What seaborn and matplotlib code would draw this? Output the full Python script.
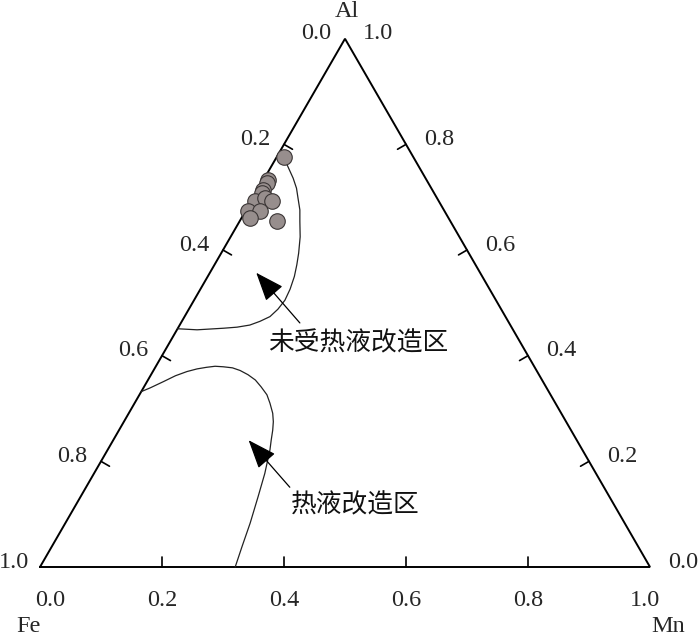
import numpy as np
import pandas as pd
import matplotlib
matplotlib.use("Agg")
import matplotlib.pyplot as plt
import seaborn as sns

# sample compositions (fractions)
fe = [0.213, 0.259, 0.265, 0.277, 0.283, 0.302, 0.282, 0.274, 0.322, 0.303, 0.325, 0.285]
mn = [0.011, 0.008, 0.008, 0.009, 0.010, 0.007, 0.020, 0.035, 0.005, 0.024, 0.014, 0.061]
al = [0.777, 0.733, 0.727, 0.714, 0.708, 0.692, 0.698, 0.692, 0.673, 0.673, 0.661, 0.655]

# field boundaries (Al, Mn; Fe = 1 - Al - Mn)
unaltered_al = [0.764, 0.736, 0.717, 0.698, 0.676, 0.654, 0.625, 0.594, 0.572, 0.550,
                0.526, 0.505, 0.488, 0.474, 0.465, 0.458, 0.454, 0.452, 0.449, 0.451]
unaltered_mn = [0.022, 0.047, 0.062, 0.074, 0.088, 0.099, 0.114, 0.127, 0.135, 0.142,
                0.147, 0.149, 0.146, 0.140, 0.128, 0.115, 0.096, 0.075, 0.033, 0.000]
hydro_al = [0.332, 0.339, 0.351, 0.362, 0.370, 0.375, 0.378, 0.380, 0.379, 0.377,
            0.372, 0.364, 0.354, 0.341, 0.326, 0.310, 0.291, 0.275, 0.259, 0.240,
            0.222, 0.177, 0.133, 0.083, 0.038, 0.000]
hydro_mn = [0.000, 0.011, 0.027, 0.041, 0.056, 0.070, 0.084, 0.097, 0.111, 0.127,
            0.142, 0.159, 0.176, 0.192, 0.209, 0.222, 0.236, 0.245, 0.252, 0.259,
            0.266, 0.280, 0.291, 0.303, 0.312, 0.320]

tick_values = [0.0, 0.2, 0.4, 0.6, 0.8, 1.0]
tick_labels = ["0.0", "0.2", "0.4", "0.6", "0.8", "1.0"]

H = np.sqrt(3) / 2


def to_xy(mn_, al_):
    mn_ = np.asarray(mn_, float)
    al_ = np.asarray(al_, float)
    return mn_ + al_ / 2, al_ * H


sns.set_theme(style="white")
plt.rcParams["font.family"] = ["Liberation Serif", "DejaVu Serif"]

fig = plt.figure(figsize=(7, 6.36), dpi=100)
ax = fig.add_axes([0, 0, 1, 1])
ax.set_xlim(-40 / 610, 660 / 610)
ax.set_ylim((567 - 636) / 610, 567 / 610)
ax.set_axis_off()

# triangle frame
ax.plot([0, 1, 0.5, 0], [0, 0, H, 0], color="black", lw=1.4, solid_joinstyle="miter")

tick_len = 0.016
num_kw = dict(fontsize=17.5, ha="center", va="center", textcoords="offset pixels")
bottom_shift = {0.0: 10, 1.0: -5}
for v, lab in zip(tick_values, tick_labels):
    # bottom edge: Mn
    bx, by = to_xy(v, 0)
    if 0 < v < 1:
        ax.plot([bx, bx], [by, by + tick_len], color="black", lw=1.2)
    ax.annotate(lab, (bx, by), xytext=(bottom_shift.get(v, 0), -33), **num_kw)
    # left edge: Fe (Mn = 0, Al = 1 - Fe)
    lx, ly = to_xy(0, 1 - v)
    if 0 < v < 1:
        ax.plot([lx, lx + tick_len * H], [ly, ly - tick_len * 0.5], color="black", lw=1.2)
    ax.annotate(lab, (lx, ly), xytext=(-26 if v == 1.0 else -29, 5), **num_kw)
    # right edge: Al (Fe = 0, Mn = 1 - Al)
    rx, ry = to_xy(1 - v, v)
    if 0 < v < 1:
        ax.plot([rx, rx - tick_len * H], [ry, ry - tick_len * 0.5], color="black", lw=1.2)
    ax.annotate(lab, (rx, ry), xytext=(33, 5), **num_kw)

ax.annotate("Al", to_xy(0, 1), xytext=(2, 27), **num_kw)
ax.annotate("Fe", to_xy(0, 0), xytext=(-12, -59), **num_kw)
ax.annotate("Mn", to_xy(1, 0), xytext=(18, -59), **num_kw)

# field boundaries
ux, uy = to_xy(unaltered_mn, unaltered_al)
hx, hy = to_xy(hydro_mn, hydro_al)
sns.lineplot(x=ux, y=uy, sort=False, estimator=None, color="#222222", lw=0.9, ax=ax)
sns.lineplot(x=hx, y=hy, sort=False, estimator=None, color="#222222", lw=0.9, ax=ax)

# samples
px, py = to_xy(mn, al)
df = pd.DataFrame({"x": px, "y": py})
sns.scatterplot(data=df, x="x", y="y", s=125, color="#978e8d", edgecolor="#3a3535",
                linewidth=0.8, ax=ax, zorder=5)

# arrows and field names
arrow_kw = dict(arrowstyle="-|>,head_length=0.9,head_width=0.35", color="black",
                lw=0.9, mutation_scale=20, shrinkA=0, shrinkB=0)
ax.annotate("", xy=to_xy(0.076, 0.557), xytext=to_xy(0.195, 0.462), arrowprops=arrow_kw)
ax.annotate("", xy=to_xy(0.222, 0.240), xytext=to_xy(0.334, 0.151), arrowprops=arrow_kw)

cjk = ["Noto Sans CJK SC", "DejaVu Sans"]
ax.text(*to_xy(0.309, 0.424), "未受热液改造区", family=cjk, fontsize=18.5,
        fontweight="light", ha="center", va="center", color="#111111")
ax.text(*to_xy(0.458, 0.117), "热液改造区", family=cjk, fontsize=18.5,
        fontweight="light", ha="center", va="center", color="#111111")

ax.set_xlabel("")
ax.set_ylabel("")
fig.savefig("out.png", dpi=100)
